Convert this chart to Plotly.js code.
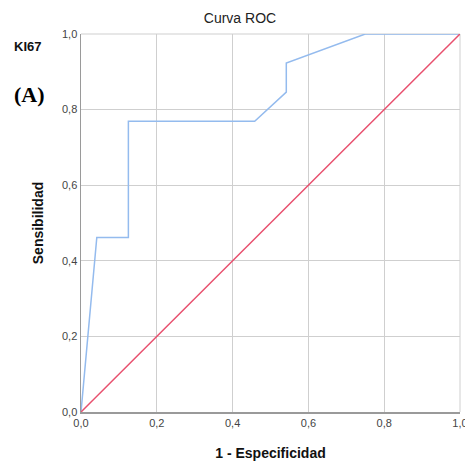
<!DOCTYPE html>
<html><head><meta charset="utf-8">
<script src="https://cdn.plot.ly/plotly-3.0.1.min.js"></script>
<style>html,body{margin:0;padding:0;background:#fff}</style>
</head><body>
<div id="chart" style="width:465px;height:464px"></div>
<script>
const fpr = [0, 0.0417, 0.125, 0.125, 0.4583, 0.5417, 0.5417, 0.75, 1.0];
const tpr = [0, 0.4615, 0.4615, 0.7692, 0.7692, 0.8462, 0.9231, 1.0, 1.0];
const refX = [0, 1];
const refY = [0, 1];
const ticks = [0, 0.2, 0.4, 0.6, 0.8, 1.0];

const traces = [
  {x: fpr, y: tpr, mode: 'lines', line: {color: '#94bbee', width: 1.5}, hoverinfo: 'skip'},
  {x: refX, y: refY, mode: 'lines', line: {color: '#e8506e', width: 1.5}, hoverinfo: 'skip'}
];
const axisCommon = {
  range: [0, 1], tickvals: ticks, tickformat: '.1f', showgrid: true, gridcolor: '#cfcfcf', gridwidth: 1,
  zeroline: false, showline: true, linecolor: '#9a9a9a', linewidth: 1.5, ticks: '',
  ticklabeloverflow: 'allow',
  tickfont: {family: 'Liberation Sans, Arial, sans-serif', size: 11, color: '#444'}
};
const layout = {
  width: 465, height: 464,
  margin: {l: 81, r: 5, t: 34, b: 52},
  paper_bgcolor: '#fff', plot_bgcolor: '#fff',
  separators: ',.',
  showlegend: false,
  font: {family: 'Liberation Sans, Arial, sans-serif'},
  title: {text: 'Curva ROC', x: 240/465, xref: 'container', xanchor: 'center', y: 1 - 18/464, yref: 'container', yanchor: 'middle',
          font: {size: 14, color: '#222'}},
  xaxis: Object.assign({}, axisCommon, {
    title: {text: '<b>1 - Especificidad</b>', font: {size: 14, color: '#111'}, standoff: 20}
  }),
  yaxis: Object.assign({}, axisCommon, {
    title: {text: '<b>Sensibilidad</b>', font: {size: 14, color: '#111'}, standoff: 15}
  }),
  shapes: [
    {type: 'line', xref: 'paper', yref: 'paper', x0: 1, x1: 1, y0: 0, y1: 1, line: {color: '#cfcfcf', width: 1}, layer: 'below'},
    {type: 'line', xref: 'paper', yref: 'paper', x0: 0, x1: 1, y0: 1, y1: 1, line: {color: '#cfcfcf', width: 1}, layer: 'below'}
  ],
  annotations: [
    {text: '<b>KI67</b>', xref: 'paper', yref: 'paper', x: -81/379, y: 1 - (46-34)/378, xanchor: 'left', yanchor: 'middle',
     showarrow: false, font: {size: 13, color: '#111', family: 'Liberation Sans, Arial, sans-serif'}, xshift: 12},
    {text: '<b>(A)</b>', xref: 'paper', yref: 'paper', x: -81/379, y: 1 - (94-34)/378, xanchor: 'left', yanchor: 'middle',
     showarrow: false, font: {size: 22, color: '#000', family: 'Liberation Serif, Times New Roman, serif'}, xshift: 12}
  ]
};
Plotly.newPlot('chart', traces, layout, {displayModeBar: false, staticPlot: true});
</script>
</body></html>
